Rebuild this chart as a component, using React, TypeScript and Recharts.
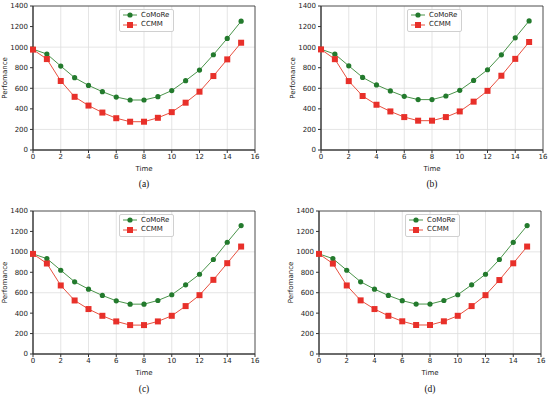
import React from "react";
import {
   LineChart,
   Line,
   XAxis,
   YAxis,
   CartesianGrid,
   Legend,
   ReferenceArea,
} from "recharts";

const time = [0, 1, 2, 3, 4, 5, 6, 7, 8, 9, 10, 11, 12, 13, 14, 15];
const xTicks = [0, 2, 4, 6, 8, 10, 12, 14, 16];
const yTicks = [0, 200, 400, 600, 800, 1000, 1200, 1400];

const comoreA = [980, 933, 816, 703, 628, 567, 515, 486, 486, 518, 578, 674, 777, 926, 1085, 1252];
const ccmmA = [976, 884, 671, 517, 432, 364, 309, 275, 275, 313, 368, 460, 567, 719, 881, 1043];
const comoreB = [980, 932, 818, 706, 633, 574, 522, 490, 490, 525, 580, 676, 780, 925, 1091, 1255];
const ccmmB = [978, 883, 670, 525, 440, 375, 320, 285, 285, 320, 375, 470, 575, 722, 886, 1050];
const comoreC = [980, 934, 820, 707, 635, 573, 521, 488, 488, 524, 580, 677, 781, 925, 1094, 1257];
const ccmmC = [980, 886, 671, 524, 440, 374, 319, 283, 283, 319, 374, 469, 576, 726, 889, 1052];
const comoreD = [980, 934, 820, 707, 635, 573, 522, 489, 489, 524, 580, 677, 781, 925, 1093, 1257];
const ccmmD = [980, 885, 671, 525, 440, 374, 320, 284, 284, 320, 374, 469, 576, 724, 888, 1052];

const GREEN_LINE = "#4a944a";
const GREEN_DOT = "#237a2d";
const RED_LINE = "#e8503f";
const RED_DOT = "#e8302a";
const FONT = "DejaVu Sans";

const buildRows = (a: number[], b: number[]) =>
   time.map((t, i) => ({ time: t, CoMoRe: a[i], CCMM: b[i] }));

const SquareDot = (props: any) => {
   const { cx, cy, index } = props;
   if (cx == null || cy == null) return <g key={index} />;
   return (
      <rect key={index} x={cx - 3} y={cy - 3} width={6} height={6} fill={RED_DOT} />
   );
};

const LegendBox = () => (
   <div
      style={{
         border: "1px solid #d0d0d0",
         borderRadius: 2,
         background: "rgba(255,255,255,0.85)",
         padding: "1px 4px 1px 2px",
         fontFamily: FONT,
         fontSize: 7,
         color: "#222",
         lineHeight: "9.5px",
      }}
   >
      {[
         { name: "CoMoRe", line: GREEN_LINE, dot: GREEN_DOT, square: false },
         { name: "CCMM", line: RED_LINE, dot: RED_DOT, square: true },
      ].map((it) => (
         <div key={it.name} style={{ display: "flex", alignItems: "center", whiteSpace: "nowrap" }}>
            <svg width={16} height={8} style={{ marginRight: 3 }}>
               <line x1={1} y1={4} x2={15} y2={4} stroke={it.line} strokeWidth={1} />
               {it.square ? (
                  <rect x={5} y={1} width={6} height={6} fill={it.dot} />
               ) : (
                  <circle cx={8} cy={4} r={2.6} fill={it.dot} />
               )}
            </svg>
            <span>{it.name}</span>
         </div>
      ))}
   </div>
);

interface PanelProps {
   ox: number;
   oy: number;
   plotLeft: number;
   plotRight: number;
   plotTop: number;
   plotBottom: number;
   comore: number[];
   ccmm: number[];
   caption: string;
   captionY: number;
}

const Panel: React.FC<PanelProps> = ({
   ox, oy, plotLeft, plotRight, plotTop, plotBottom, comore, ccmm, caption, captionY,
}) => {
   const width = 275;
   const xAxisH = 22;
   const height = plotBottom - oy + xAxisH;
   const yAxisW = plotLeft - ox;
   const center = (plotLeft + plotRight) / 2;
   return (
      <>
         <div style={{ position: "absolute", left: ox, top: oy }}>
            <LineChart
               width={width}
               height={height}
               data={buildRows(comore, ccmm)}
               margin={{ top: plotTop - oy, right: ox + width - plotRight, left: 0, bottom: 0 }}
            >
               <CartesianGrid stroke="#dedede" strokeWidth={0.8} />
               <XAxis
                  dataKey="time"
                  type="number"
                  domain={[0, 16]}
                  ticks={xTicks}
                  height={xAxisH}
                  tickSize={3}
                  tickMargin={1}
                  stroke="#333"
                  tick={{ fontSize: 7, fontFamily: FONT, fill: "#222" }}
                  label={{
                     value: "Time",
                     position: "insideBottom",
                     offset: 1,
                     style: { fontSize: 7, fontFamily: FONT, fill: "#222" },
                  }}
               />
               <YAxis
                  type="number"
                  domain={[0, 1400]}
                  ticks={yTicks}
                  width={yAxisW}
                  tickSize={3}
                  tickMargin={2}
                  stroke="#333"
                  tick={{ fontSize: 7, fontFamily: FONT, fill: "#222" }}
                  label={{
                     value: "Perfomance",
                     angle: -90,
                     position: "insideLeft",
                     offset: yAxisW - 28,
                     style: { fontSize: 7, fontFamily: FONT, fill: "#222", textAnchor: "middle" },
                  }}
               />
               <ReferenceArea x1={0} x2={16} y1={0} y2={1400} fill="none" stroke="#333" strokeWidth={0.8} />
               <Legend
                  layout="horizontal"
                  verticalAlign="middle"
                  align="center"
                  content={() => <LegendBox />}
                  wrapperStyle={{
                     left: center - ox - 25,
                     top: plotTop - oy + 2.5,
                     width: "auto",
                     height: "auto",
                  }}
               />
               <Line
                  dataKey="CoMoRe"
                  stroke={GREEN_LINE}
                  strokeWidth={1}
                  dot={{ r: 2.6, fill: GREEN_DOT, stroke: "none" }}
                  isAnimationActive={false}
               />
               <Line
                  dataKey="CCMM"
                  stroke={RED_LINE}
                  strokeWidth={1}
                  dot={SquareDot}
                  isAnimationActive={false}
               />
            </LineChart>
         </div>
         <div
            style={{
               position: "absolute",
               left: center - 20,
               width: 40,
               top: captionY - 6,
               textAlign: "center",
               fontFamily: "Liberation Serif",
               fontSize: 9.5,
               color: "#111",
               lineHeight: "12px",
            }}
         >
            {caption}
         </div>
      </>
   );
};

export default function App() {
   return (
      <div
         style={{
            position: "absolute",
            left: 0,
            top: 0,
            width: 550,
            height: 396,
            background: "#fff",
            overflow: "hidden",
         }}
      >
         <Panel ox={0} oy={0} plotLeft={33} plotRight={255} plotTop={6} plotBottom={150}
            comore={comoreA} ccmm={ccmmA} caption="(a)" captionY={184} />
         <Panel ox={275} oy={0} plotLeft={321} plotRight={543} plotTop={6} plotBottom={150}
            comore={comoreB} ccmm={ccmmB} caption="(b)" captionY={184} />
         <Panel ox={0} oy={198} plotLeft={33} plotRight={255} plotTop={211} plotBottom={354}
            comore={comoreC} ccmm={ccmmC} caption="(c)" captionY={389} />
         <Panel ox={275} oy={198} plotLeft={319} plotRight={541} plotTop={211} plotBottom={354}
            comore={comoreD} ccmm={ccmmD} caption="(d)" captionY={389} />
      </div>
   );
}
